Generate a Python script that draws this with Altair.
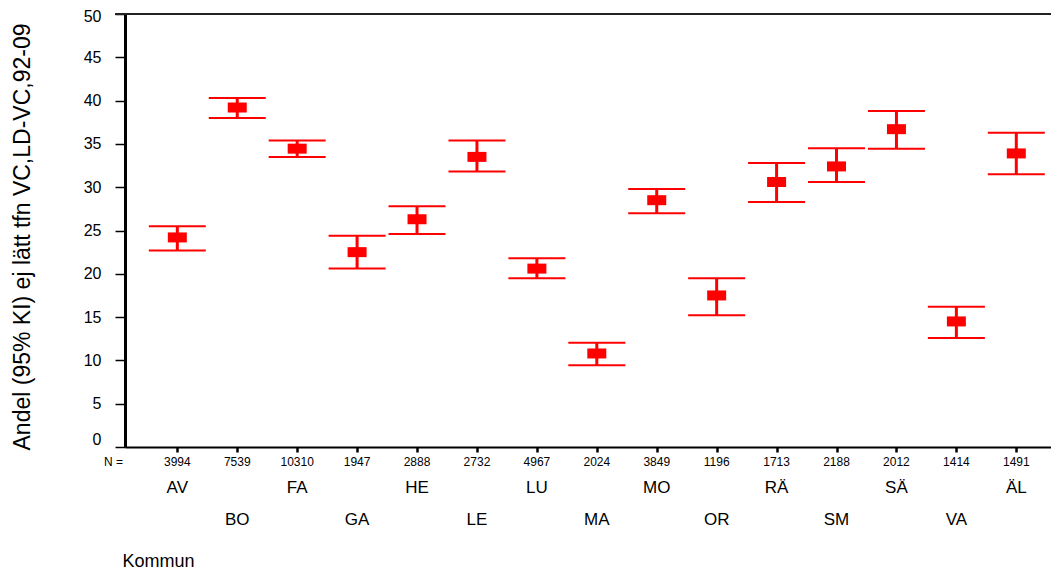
import altair as alt
import pandas as pd

kommun = ["AV", "BO", "FA", "GA", "HE", "LE", "LU", "MA", "MO", "OR", "RÄ", "SM", "SÄ", "VA", "ÄL"]
n_values = [3994, 7539, 10310, 1947, 2888, 2732, 4967, 2024, 3849, 1196, 1713, 2188, 2012, 1414, 1491]
mean_pct = [24.2, 39.2, 34.45, 22.5, 26.3, 33.5, 20.6, 10.8, 28.5, 17.5, 30.6, 32.4, 36.7, 14.5, 33.9]
ci_low = [22.7, 38.0, 33.5, 20.6, 24.6, 31.8, 19.5, 9.45, 27.0, 15.2, 28.3, 30.6, 34.45, 12.6, 31.5]
ci_high = [25.5, 40.3, 35.4, 24.4, 27.8, 35.4, 21.8, 12.05, 29.8, 19.5, 32.8, 34.5, 38.8, 16.2, 36.3]
y_ticks = [0, 5, 10, 15, 20, 25, 30, 35, 40, 45, 50]

df = pd.DataFrame({
    "idx": list(range(len(kommun))),
    "kommun": kommun,
    "n": [str(v) for v in n_values],
    "mean": mean_pct,
    "lo": ci_low,
    "hi": ci_high,
})
df["row"] = df["idx"] % 2

FONT = "Liberation Sans"
RED = "#FF0000"
W, H = 926, 433

xscale = alt.Scale(domain=[-0.873, 14.579], nice=False, zero=False)
yscale = alt.Scale(domain=[0, 50], nice=False)

x_enc = alt.X("idx:Q", scale=xscale, axis=alt.Axis(
    values=list(range(15)), labels=False, grid=False,
    domainColor="black", domainWidth=2, tickColor="black", tickWidth=2.5, tickSize=5,
    title="Kommun", titleFont=FONT, titleFontSize=18, titleFontWeight="normal",
    titleAlign="left", titleBaseline="middle", titleAnchor="start",
    titleX=-3, titleY=114, titleColor="black",
))
y_enc = alt.Y("lo:Q", scale=yscale, axis=alt.Axis(
    values=y_ticks, grid=False, domainColor="black", domainWidth=3,
    tickColor="black", tickWidth=1.5, tickSize=10,
    labelFont=FONT, labelFontSize=16, labelColor="black", labelPadding=14,
    labelOffset={"condition": [{"test": "datum.value == 0", "value": -8},
                               {"test": "datum.value == 50", "value": 2}], "value": 0},
    title="Andel (95% KI) ej lätt tfn VC,LD-VC,92-09", titleFont=FONT,
    titleFontSize=23, titleFontWeight="normal", titleColor="black",
    titleX=-103, titleY=H / 2 + 6, titleAngle=-90, titleAlign="center", titleBaseline="middle",
))

base = alt.Chart(df)

vline = base.mark_rule(color=RED, strokeWidth=3).encode(x=x_enc, y=y_enc, y2="hi:Q")
cap_lo = base.mark_tick(orient="horizontal", color=RED, size=57, thickness=2, opacity=1).encode(
    x="idx:Q", y="lo:Q")
cap_hi = base.mark_tick(orient="horizontal", color=RED, size=57, thickness=2, opacity=1).encode(
    x="idx:Q", y="hi:Q")
mean_box = base.mark_tick(orient="horizontal", color=RED, size=19, thickness=10, opacity=1).encode(
    x="idx:Q", y="mean:Q")

top_line = alt.Chart(pd.DataFrame({"v": [50]})).mark_rule(color="#222222", strokeWidth=2).encode(
    y="v:Q", x=alt.value(-10), x2=alt.value(W))

n_text = base.mark_text(font=FONT, fontSize=12, color="black", dy=15, baseline="middle").encode(
    x="idx:Q", y=alt.datum(0), text="n:N")
n_label = alt.Chart(pd.DataFrame({"t": ["N ="]})).mark_text(
    font=FONT, fontSize=12, color="black", dy=15, align="right", baseline="middle").encode(
    x=alt.value(-2), y=alt.datum(0), text="t:N")
row0 = base.transform_filter("datum.row == 0").mark_text(
    font=FONT, fontSize=17, color="black", dy=41, baseline="middle").encode(
    x="idx:Q", y=alt.datum(0), text="kommun:N")
row1 = base.transform_filter("datum.row == 1").mark_text(
    font=FONT, fontSize=17, color="black", dy=73, baseline="middle").encode(
    x="idx:Q", y=alt.datum(0), text="kommun:N")

chart = alt.layer(vline, cap_lo, cap_hi, mean_box, top_line, n_text, n_label, row0, row1).properties(
    width=W, height=H,
    autosize=alt.AutoSizeParams(type="none"),
    padding={"left": 117, "top": 6, "right": 0, "bottom": 122},
).configure_view(stroke=None).configure(background="white")

chart.save("out.html", embed_options={"renderer": "svg", "actions": False})
